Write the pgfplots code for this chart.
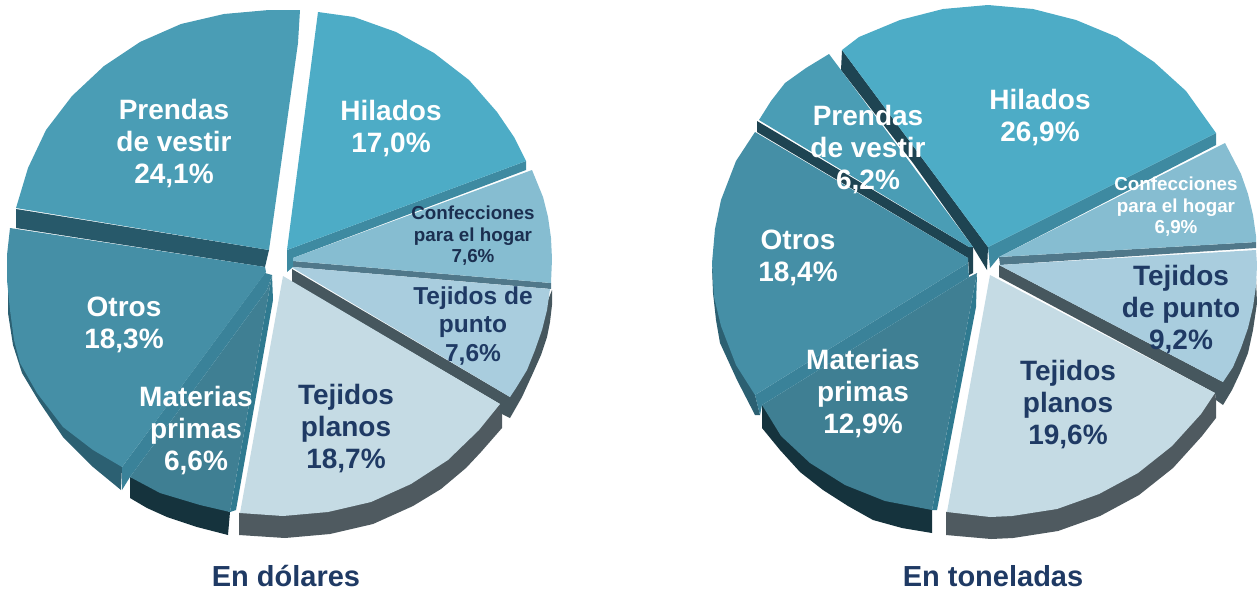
\documentclass[border=0pt]{standalone}
\usepackage{pgfplots}
\pgfplotsset{compat=1.18}
\usepackage{fontspec}
\setmainfont{Liberation Sans}
\definecolor{cHil}{HTML}{4DACC6}
\definecolor{cHilS}{HTML}{3E8AA1}
\definecolor{cCon}{HTML}{86BDD1}
\definecolor{cConS}{HTML}{50788A}
\definecolor{cPun}{HTML}{A9CDDE}
\definecolor{cPunS}{HTML}{46575E}
\definecolor{cPla}{HTML}{C5DBE4}
\definecolor{cPlaS}{HTML}{4F5A60}
\definecolor{cMat}{HTML}{3F7F93}
\definecolor{cMatS}{HTML}{15333D}
\definecolor{cMatE}{HTML}{2F7A90}
\definecolor{cOtr}{HTML}{458FA6}
\definecolor{cOtrS}{HTML}{2C6072}
\definecolor{cOtrB}{HTML}{3A8299}
\definecolor{cPre}{HTML}{4A9DB5}
\definecolor{cPreS}{HTML}{27596A}
\definecolor{cPreD}{HTML}{1E4452}
\definecolor{cNavy}{HTML}{1F3A64}
\definecolor{cDark}{HTML}{1B2F50}
\newcommand{\lblbig}{\fontsize{28}{32}\selectfont\bfseries}
\newcommand{\lblsmall}{\fontsize{18.8}{21.5}\selectfont\bfseries}
\begin{document}
\begin{tikzpicture}
\useasboundingbox (0,0) rectangle (1257pt,590pt);
\begin{axis}[at={(0,0)},anchor=south west,scale only axis,width=1257pt,height=590pt,
  xmin=0,xmax=1257,ymin=0,ymax=590,y dir=reverse,hide axis,clip=true,
  every axis plot/.append style={draw=none,mark=none,line width=0pt}]
% ---------- left pie: sides
\addplot[fill=cPlaS] coordinates {(502,415)(502,428)(481,452)(466,468)(441,489)(413,506)(373,524)(330,534)(285,538)(239,535)(239,513)(330,500)(500,404)};
\addplot[fill=cPunS] coordinates {(292,269)(510,397)(552,290)(552,305)(550,322)(547,337)(541,355)(533,373)(522,397)(510,418)(500,413)(500,404)(292,282)};
\addplot[fill=cConS] coordinates {(293,261)(551,283)(551,289)(293,267)};
\addplot[fill=cHilS] coordinates {(526,161)(526,170)(293,258)(293,267)(287,272)(287,250)};
\addplot[fill=cMatS] coordinates {(130,477)(130,498)(147,508)(167,517)(197,527)(228,535)(230,512)};
\addplot[fill=cOtrS] coordinates {(8,280)(8,313)(13,345)(22,373)(40,403)(63,437)(93,467)(121,490)(122,467)};
\addplot[fill=cPreS] coordinates {(16,209)(16,228)(265,267)(269,250)};
% left pie: faces
\addplot[fill=cPre] coordinates {(16,208)(28,168)(46,130)(72,96)(104,66)(140,42)(181,24)(224,14)(269,10)(300,10)(298,43)(269,250)};
\addplot[fill=cHil] coordinates {(318,12)(354,17)(396,32)(434,53)(469,80)(497,112)(514,137)(526,161)(287,250)};
\addplot[fill=cCon] coordinates {(532,170)(543,197)(548,217)(551,238)(552,259)(551,283)(293,261)(293,258)};
\addplot[fill=cPun] coordinates {(293,267)(550,289)(547,310)(542,330)(535,350)(527,370)(516,388)(510,397)(293,268)};
\addplot[fill=cPla] coordinates {(283,276)(500,404)(479,430)(448,460)(411,484)(371,502)(328,512)(283,516)(240,513)};
\addplot[fill=cMatE] coordinates {(272,275)(273,300)(236,510)(230,512)};
\addplot[fill=cMat] coordinates {(272,275)(230,512)(200,505)(160,493)(130,477)(267,290)};
\addplot[fill=cOtrB] coordinates {(265,273)(272,275)(267,290)(130,477)(122,490)(122,467)};
\addplot[fill=cOtr] coordinates {(10,228)(265,267)(266,272)(122,467)(93,450)(63,427)(37,393)(20,363)(14,340)(10,310)(7,280)(7,255)};
% ---------- right pie: sides
\addplot[fill=cPlaS] coordinates {(1216,400)(1216,418)(1202,436)(1173,468)(1139,495)(1100,516)(1058,531)(1013,538)(991,539)(946,535)(946,512)(1100,480)(1215,393)};
\addplot[fill=cPunS] coordinates {(999,265)(1223,382)(1255,255)(1257,303)(1253,330)(1248,353)(1240,373)(1232,390)(1223,405)(1216,400)(1215,393)(999,277)};
\addplot[fill=cConS] coordinates {(999,257)(1256,242)(1256,248)(1000,265)};
\addplot[fill=cHilS] coordinates {(1216,133)(1216,145)(999,257)(990,268)(988,247)};
\addplot[fill=cMatS] coordinates {(762,405)(762,428)(780,450)(800,472)(823,490)(848,506)(873,520)(902,528)(932,533)(932,510)};
\addplot[fill=cOtrS] coordinates {(712,267)(713,293)(716,320)(720,343)(737,380)(755,415)(760,415)(755,395)};
\addplot[fill=cPreD] coordinates {(842,50)(841,70)(913,163)(973,247)(987,270)(988,247)};
\addplot[fill=cPreD] coordinates {(757,121)(757,132)(968,258)(969,275)(973,273)(973,247)(969,247)};
% right pie: faces
\addplot[fill=cHil] coordinates {(842,50)(859,37)(900,20)(943,9)(988,5)(1033,9)(1076,20)(1117,37)(1154,62)(1186,91)(1211,126)(1216,133)(988,247)};
\addplot[fill=cPre] coordinates {(759,120)(771,101)(785,83)(806,68)(829,54)(973,247)(969,247)};
\addplot[fill=cCon] coordinates {(1225,143)(1241,174)(1248,194)(1253,215)(1256,236)(1256,242)(999,257)};
\addplot[fill=cPun] coordinates {(999,265)(1256,250)(1257,265)(1256,286)(1253,307)(1248,328)(1241,348)(1233,367)(1223,382)};
\addplot[fill=cPla] coordinates {(990,275)(1215,393)(1201,414)(1172,446)(1138,473)(1099,494)(1057,509)(1012,516)(990,517)(947,512)};
\addplot[fill=cMatE] coordinates {(977,273)(976,307)(937,510)(932,510)};
\addplot[fill=cMat] coordinates {(977,273)(969,277)(762,405)(781,436)(810,463)(845,485)(885,501)(932,510)};
\addplot[fill=cOtrB] coordinates {(755,395)(968,263)(969,277)(762,405)(760,415)};
\addplot[fill=cOtr] coordinates {(755,132)(736,161)(721,200)(715,229)(712,263)(714,297)(721,326)(736,365)(755,395)(968,263)(968,258)};
% ---------- labels
\tikzset{lab/.style={align=center,inner sep=0pt,anchor=center}}
\node[lab,white,font=\lblbig] at (axis cs:174,143.5) {Prendas\\de vestir\\24,1\%};
\node[lab,white,font=\lblbig] at (axis cs:391,128.5) {Hilados\\17,0\%};
\node[lab,cDark,font=\lblsmall] at (axis cs:473,236) {Confecciones\\para el hogar\\7,6\%};
\node[lab,cNavy,font=\fontsize{24.5}{28.5}\selectfont\bfseries] at (axis cs:473,326) {Tejidos de\\punto\\7,6\%};
\node[lab,white,font=\lblbig] at (axis cs:124,324.5) {Otros\\18,3\%};
\node[lab,white,font=\lblbig] at (axis cs:196,430.5) {Materias\\primas\\6,6\%};
\node[lab,cNavy,font=\lblbig] at (axis cs:346,428.5) {Tejidos\\planos\\18,7\%};
\node[inner sep=0pt,anchor=base,cNavy,font=\fontsize{29}{32}\selectfont\bfseries] at (axis cs:286,586) {En dólares};
\node[lab,white,font=\lblbig] at (axis cs:1040,117.5) {Hilados\\26,9\%};
\node[lab,white,font=\lblbig] at (axis cs:868,149.5) {Prendas\\de vestir\\6,2\%};
\node[lab,white,font=\lblsmall] at (axis cs:1176,207) {Confecciones\\para el hogar\\6,9\%};
\node[lab,cNavy,font=\lblbig] at (axis cs:1181,309.5) {Tejidos\\de punto\\9,2\%};
\node[lab,white,font=\lblbig] at (axis cs:798,257.5) {Otros\\18,4\%};
\node[lab,white,font=\lblbig] at (axis cs:863,393.5) {Materias\\primas\\12,9\%};
\node[lab,cNavy,font=\lblbig] at (axis cs:1068,404.5) {Tejidos\\planos\\19,6\%};
\node[inner sep=0pt,anchor=base,cNavy,font=\fontsize{29}{32}\selectfont\bfseries] at (axis cs:993,586) {En toneladas};
\end{axis}
\end{tikzpicture}
\end{document}
